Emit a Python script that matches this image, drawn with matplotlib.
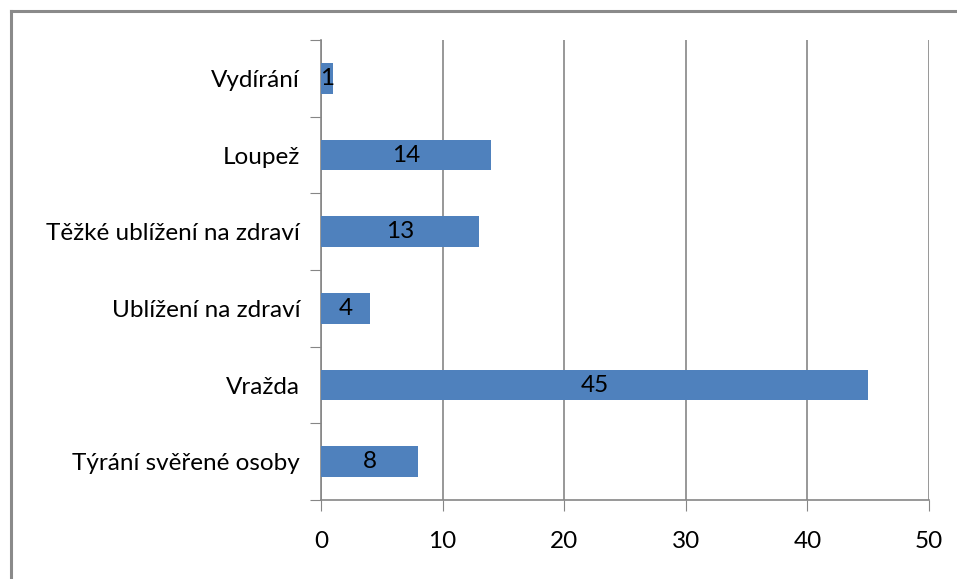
import matplotlib.pyplot as plt
from matplotlib.lines import Line2D

categories = ['Týrání svěřené osoby', 'Vražda', 'Ublížení na zdraví',
              'Těžké ublížení na zdraví', 'Loupež', 'Vydírání']
counts = [8, 45, 4, 13, 14, 1]
x_ticks = [0, 10, 20, 30, 40, 50]

plt.rcParams['font.family'] = ['Lato', 'DejaVu Sans']
grey = '#868686'
fs = 17.5

fig = plt.figure(figsize=(9.57, 5.79), dpi=100)
ax = fig.add_axes([321 / 957, 1 - 500 / 579, 608 / 957, 460 / 579])

pos = list(range(len(categories)))
bars = ax.barh(pos, counts, height=0.4, color='#4F81BD', zorder=3)
ax.bar_label(bars, labels=[str(c) for c in counts], label_type='center',
             fontsize=fs, color='black')

ax.set_xlim(0, 50)
ax.set_ylim(-0.5, len(categories) - 0.5)
ax.set_xticks(x_ticks)
ax.set_xticklabels([str(t) for t in x_ticks], fontsize=fs)
ax.tick_params(axis='x', length=8, color=grey, pad=14)
ax.xaxis.grid(True, color=grey, linewidth=1.2, zorder=0)

# category boundaries get the tick marks, names sit between them
ax.set_yticks([p - 0.5 for p in range(len(categories) + 1)])
ax.set_yticklabels([])
ax.tick_params(axis='y', length=8, color=grey)
ax.set_yticks(pos, minor=True)
ax.set_yticklabels(categories, minor=True, fontsize=fs)
ax.tick_params(axis='y', which='minor', length=0, pad=15)

for side in ['top', 'right']:
    ax.spines[side].set_visible(False)
for side in ['left', 'bottom']:
    ax.spines[side].set_color(grey)
    ax.spines[side].set_linewidth(1.2)

# outer chart border (left and top edges visible)
fig.add_artist(Line2D([10.5 / 957, 10.5 / 957], [0, 1 - 11 / 579],
                      transform=fig.transFigure, color='#8a8a8a', linewidth=2.2))
fig.add_artist(Line2D([10.5 / 957, 1], [1 - 11 / 579, 1 - 11 / 579],
                      transform=fig.transFigure, color='#8a8a8a', linewidth=2.2))

fig.savefig('out.png', dpi=100)
